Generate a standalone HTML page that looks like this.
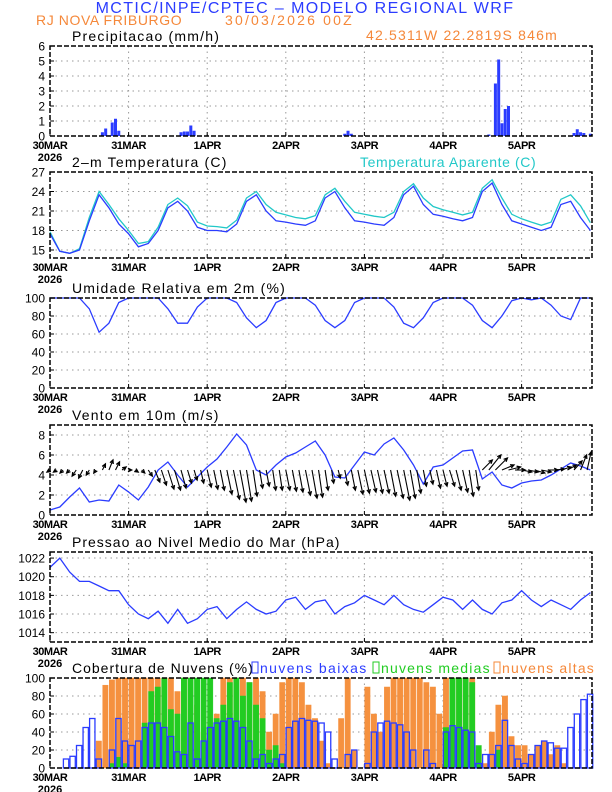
<!DOCTYPE html>
<html><head><meta charset="utf-8"><style>
html,body{margin:0;padding:0;background:#fff}
svg{display:block;font-family:"Liberation Sans",sans-serif}
</style></head><body>
<svg id="c" width="612" height="792" viewBox="0 0 612 792" xmlns="http://www.w3.org/2000/svg">
<text x="305" y="13" text-anchor="middle" font-size="16" letter-spacing="1.4" fill="#2b3cff">MCTIC/INPE/CPTEC  –  MODELO REGIONAL WRF</text>
<text x="36" y="25" font-size="14" letter-spacing="0.6" fill="#f5883a">RJ NOVA FRIBURGO</text>
<text x="225" y="25" font-size="14" letter-spacing="2.2" fill="#f5883a">30/03/2026 00Z</text>
<text x="366" y="40" font-size="14" letter-spacing="1.2" fill="#f5883a">42.5311W 22.2819S 846m</text>
<text x="72" y="41" font-size="14" letter-spacing="1.2" fill="#000">Precipitacao (mm/h)</text>
<text x="72" y="167" font-size="14" letter-spacing="1.2" fill="#000">2–m Temperatura (C)</text>
<text x="360" y="167" font-size="14" letter-spacing="0.6" fill="#22c8c8">Temperatura Aparente (C)</text>
<text x="72" y="293" font-size="14" letter-spacing="1.2" fill="#000">Umidade Relativa em 2m (%)</text>
<text x="72" y="420" font-size="14" letter-spacing="1.2" fill="#000">Vento em 10m (m/s)</text>
<text x="72" y="547" font-size="14" letter-spacing="1.0" fill="#000">Pressao ao Nivel Medio do Mar (hPa)</text>
<text x="72" y="673" font-size="14" letter-spacing="1.0" fill="#000">Cobertura de Nuvens (%)</text>
<rect x="252" y="662" width="6" height="11" fill="none" stroke="#2b3cff"/>
<text x="260" y="673" font-size="14" letter-spacing="1.4" fill="#2b3cff">nuvens baixas</text>
<rect x="373" y="662" width="6" height="11" fill="none" stroke="#22cc22"/>
<text x="381" y="673" font-size="14" letter-spacing="1.2" fill="#22cc22">nuvens medias</text>
<rect x="494" y="662" width="6" height="11" fill="none" stroke="#f5883a"/>
<text x="502" y="673" font-size="14" letter-spacing="1.2" fill="#f5883a">nuvens altas</text>
</svg>
<script>
// ---- data ----
const dayLabels = ["30MAR","31MAR","1APR","2APR","3APR","4APR","5APR"];
const precipHours = [16,17,18,19,20,21,40,41,42,43,44,90,91,92,134,136,137,138,139,140,160,161,162,163,165];
const precipValues = [0.25,0.5,0.05,0.9,1.15,0.35,0.25,0.3,0.3,0.7,0.35,0.15,0.35,0.15,0.1,3.5,5.1,0.85,1.8,2.0,0.2,0.45,0.25,0.2,0.15];
const hours3 = [0,3,6,9,12,15,18,21,24,27,30,33,36,39,42,45,48,51,54,57,60,63,66,69,72,75,78,81,84,87,90,93,96,99,102,105,108,111,114,117,120,123,126,129,132,135,138,141,144,147,150,153,156,159,162,165];
const tempValues = [17.5,14.8,14.5,15,19.5,23.5,21.5,19,17.5,15.5,16,18,21.5,22.5,21,18.5,18,18,17.8,19,22.5,23.5,21,19.5,19.3,19,18.8,19.5,23,24,21.5,19.5,19.3,19,18.8,20,23.5,24.8,22,20.5,20.2,19.8,19.5,20,24,25.3,22,19.5,19,18.5,18,18.5,22,22.5,20,18];
const apparentValues = [17.8,14.8,14.5,15.2,20,24,22,19.8,18,16,16.3,18.5,22,23,21.8,19.3,18.7,18.6,18.4,19.6,23,24,22,20.8,20.4,20,19.8,20.3,23.5,24.5,22.5,20.8,20.5,20.2,20,20.8,24,25.2,23,21.7,21.2,20.8,20.4,20.8,24.5,25.8,23,20.5,19.8,19.3,18.8,19.3,22.8,23.5,21.8,19.2];
const rhValues = [100,100,100,100,88,62,72,95,100,100,100,100,88,72,72,90,100,100,100,95,78,67,75,95,100,100,100,92,75,67,75,95,100,100,100,90,72,67,78,95,100,100,100,92,75,67,80,97,100,98,100,92,80,76,100,100];
const windSpeed = [0.5,0.8,1.8,2.7,1.3,1.5,1.4,3.0,2.3,1.5,2.8,4.5,5.3,4.0,2.8,3.8,4.8,5.6,6.8,8.1,7.0,4.5,4.0,5.0,5.8,6.2,6.8,7.4,6.0,3.8,3.7,5.0,6.3,6.0,7.1,7.7,6.5,5.0,3.1,4.8,5.0,5.7,6.4,6.5,3.6,4.3,3.0,2.7,3.2,3.4,3.5,4.0,4.6,5.2,4.9,4.5];
const pressureValues = [1021,1022,1020.5,1019.5,1019.5,1019,1018.5,1018.5,1017,1016,1015.5,1016.3,1015,1016.5,1015,1015.5,1016.5,1016.8,1015.5,1016.5,1017.3,1016.5,1016,1016.3,1017.5,1017.8,1016.5,1017.3,1017.5,1016,1016.8,1017.2,1018,1017.5,1017,1018,1017,1016.5,1016.2,1017,1017.8,1017.5,1016.5,1017.5,1016.5,1016,1017.2,1017.5,1018.5,1017.5,1016.8,1017.5,1017,1016.5,1017.5,1018.3];
const windU = [-0.3,-0.3,-0.3,-0.3,-0.4,-0.4,-0.3,-0.2,0.3,0.4, 0.4,0.4,0.3,0.3,0.3,0.4,0.5,0.5,0.6,0.6, 0.5,0.4,0.3,0.3,0.4,0.4,0.4,0.5,0.6,0.6, 0.5,0.4,0.3,0.3,0.3,0.3,0.4,0.4,0.4,0.5, 0.5,0.4,0.3,0.2,0.2,0.3,0.4,0.5,0.5,0.5, 0.5,0.5,0.5,0.6,0.6,0.5,0.4,0.3,0.3,0.4, 0.4,0.5,0.5,0.5,0.4,0.3,1.0,1.2,1.2,1.2, 1.2,1.0,1.0,1.0,1.0,1.0,1.0,1.0,1.0,0.9, 0.8,0.6,0.4];
const windV = [-0.2,-0.2,-0.3,-0.3,-0.6,-0.8,-0.5,-0.3,0.6,1.0, 0.8,0.3,0.0,-0.2,-0.3,-0.6,-1.2,-1.5,-1.9,-2.0, -1.8,-1.3,-1.0,-1.3,-1.7,-1.9,-2.0,-2.4,-2.9,-3.2, -3.1,-2.6,-1.8,-1.6,-2.0,-2.0,-2.0,-2.1,-2.2,-2.5, -2.8,-2.7,-2.0,-1.3,-0.8,-1.5,-2.0,-2.4,-2.3,-2.2, -2.3,-2.3,-2.6,-2.8,-3.0,-2.8,-2.3,-1.6,-1.4,-1.8, -1.6,-1.6,-2.0,-2.2,-2.6,-2.0,1.0,1.5,1.2,0.5, 0.3,0.0,-0.2,-0.2,-0.3,-0.2,0.0,0.1,0.3,0.5, 0.9,1.5,1.8];
const cloudLow = [0,0,10,13,25,45,55,10,0,20, 55,30,25,30,45,50,50,45,35,18, 15,50,10,30,45,50,52,55,52,45, 30,10,15,5,10,15,45,52,55,53, 52,50,40,10,0,15,20,0,5,40, 50,52,50,48,40,20,0,20,5,0, 40,47,45,42,40,5,15,15,25,53, 25,10,5,15,25,30,28,22,22,45, 60,76,82];
const cloudMid = [0,0,0,0,0,0,0,0,0,5, 12,5,0,0,50,85,90,100,65,60, 100,100,100,100,100,55,70,95,100,80, 95,70,55,20,25,5,0,0,0,0, 0,0,0,0,0,0,0,0,0,0, 0,0,0,0,0,0,0,0,0,0, 45,100,100,100,95,25,0,0,20,0, 0,0,0,0,0,0,0,0,0,0, 0,0,0];
const cloudHigh = [0,0,0,0,0,0,0,30,92,98, 100,100,100,100,100,100,100,100,100,85, 100,100,70,40,30,60,100,100,100,100, 95,100,85,40,60,95,100,100,95,70, 55,30,5,0,55,100,20,0,90,60, 40,90,100,100,100,100,100,95,90,60, 100,100,100,100,100,20,5,40,70,80, 35,25,25,15,25,30,15,25,5,0, 0,0,0];
const precipTicks = [0,1,2,3,4,5,6];
const tempTicks = [15,18,21,24,27];
const rhTicks = [0,20,40,60,80,100];
const windTicks = [0,2,4,6,8];
const pressTicks = [1014,1016,1018,1020,1022];
const cloudTicks = [0,20,40,60,80,100];

// ---- drawing ----
const NS = "http://www.w3.org/2000/svg";
const svg = document.getElementById('c');
const X0 = 50, X1 = 592, PXH = 3.275;
const BLUE = "#2b3cff", ORANGE = "#f5913f", GREEN = "#22cc22", CYAN = "#22c8c8";
function xs(h){ return X0 + h * PXH; }
function el(tag, attrs, parent){ const e = document.createElementNS(NS, tag); for (const k in attrs) e.setAttribute(k, attrs[k]); (parent||svg).appendChild(e); return e; }
function mkY(p){ return v => p.bottom - (v - p.min) / (p.max - p.min) * (p.bottom - p.top); }

function panel(name, p, ticks){
  const g = el('g', {});
  
  
  const y = mkY(p);
  for (const t of ticks){
    if (t !== p.min && t !== p.max){
      const gl = el('line', {x1:X0, x2:X1, y1:y(t), y2:y(t), stroke:'#999', 'stroke-dasharray':'1.5,4', 'stroke-width':1}, g);
      
      
    }
    const tl = el('text', {x:45, y:y(t)+4.5, 'text-anchor':'end', 'font-size':12}, g);
    tl.textContent = t;
    
    
    el('line', {x1:X0, x2:X0+4, y1:y(t), y2:y(t), stroke:'#000'}, g);
  }
  for (let d = 1; d < dayLabels.length; d++){
    const gx = xs(d*24);
    const gl = el('line', {x1:gx, x2:gx, y1:p.top, y2:p.bottom, stroke:'#999', 'stroke-dasharray':'1.5,4', 'stroke-width':1}, g);
    
    
  }
  dayLabels.forEach((d, i) => {
    const tx = el('text', {x:xs(i*24), y:p.bottom+13, 'text-anchor':'middle', 'font-size':11, 'font-weight':'bold', 'letter-spacing':'-0.5'}, g);
    tx.textContent = d;
    
    
    el('line', {x1:xs(i*24), x2:xs(i*24), y1:p.bottom, y2:p.bottom-4, stroke:'#000'}, g);
  });
  const yr = el('text', {x:X0, y:p.bottom+25, 'text-anchor':'middle', 'font-size':11, 'font-weight':'bold'}, g);
  yr.textContent = '2026';
  
  
  return {g, y};
}
function frame(g, p){
  const f = el('rect', {x:X0, y:p.top, width:X1-X0, height:p.bottom-p.top, fill:'none', stroke:'#000', 'stroke-width':1.5, 'stroke-dasharray':'5,2'}, g);
  
  
}
function line(g, hrs, vals, y, color, name){
  const d = hrs.map((h,i) => (i?'L':'M') + xs(h).toFixed(1) + ',' + y(vals[i]).toFixed(1)).join('');
  const pth = el('path', {d, fill:'none', stroke:color, 'stroke-width':1.3}, g);
  
  
}

// Precip
const P1 = {top:46, bottom:136, min:0, max:6};
let r = panel('precip', P1, precipTicks);
precipHours.forEach((h,i) => {
  const b = el('rect', {x:xs(h)-1.5, y:r.y(precipValues[i]), width:3, height:P1.bottom - r.y(precipValues[i]), fill:BLUE}, r.g);
  
  
});
frame(r.g, P1);

// Temperature
const P2 = {top:172, bottom:258, min:13.77, max:27};
r = panel('temp', P2, tempTicks);
line(r.g, hours3, apparentValues, r.y, CYAN, 'apparent-temp-line');
line(r.g, hours3, tempValues, r.y, BLUE, 'temp-line');
frame(r.g, P2);

// RH
const P3 = {top:298, bottom:388, min:0, max:100};
r = panel('rh', P3, rhTicks);
line(r.g, hours3, rhValues, r.y, BLUE, 'rh-line');
frame(r.g, P3);

// Wind
const P4 = {top:425, bottom:515, min:0, max:9};
r = panel('wind', P4, windTicks);
line(r.g, hours3, windSpeed, r.y, BLUE, 'wind-speed-line');
const base = r.y(4.5), scl = 10;
windU.forEach((u,i) => {
  const x = xs(i*2), x2 = x + u*scl, y2 = base - windV[i]*scl;
  const a = el('g', {}, r.g);
  
  
  el('line', {x1:x, y1:base, x2:x2, y2:y2, stroke:'#000', 'stroke-width':1.1}, a);
  const ang = Math.atan2(y2-base, x2-x), L = 4;
  const p1 = [x2 - L*Math.cos(ang-0.45), y2 - L*Math.sin(ang-0.45)];
  const p2 = [x2 - L*Math.cos(ang+0.45), y2 - L*Math.sin(ang+0.45)];
  el('path', {d:`M${p1[0]},${p1[1]}L${x2},${y2}L${p2[0]},${p2[1]}`, fill:'none', stroke:'#000', 'stroke-width':1.3}, a);
});
frame(r.g, P4);

// Pressure
const P5 = {top:552, bottom:642, min:1013.0, max:1022.65};
r = panel('pressure', P5, pressTicks);
line(r.g, hours3, pressureValues, r.y, BLUE, 'pressure-line');
frame(r.g, P5);

// Clouds
const P6 = {top:678, bottom:768, min:0, max:100};
r = panel('cloud', P6, cloudTicks);
function cbars(vals, color, fill, name){
  vals.forEach((v,i) => {
    if (v <= 0) return;
    const x = xs(i*2) + 0.3, w = 2*PXH - 1.2;
    const b = el('rect', {x, y:r.y(v), width:w, height:P6.bottom - r.y(v), fill: fill ? color : 'none', stroke: color, 'stroke-width': fill ? 0.5 : 1.3}, r.g);
    
    
  });
}
cbars(cloudHigh, ORANGE, true, 'high-cloud-bar');
cbars(cloudMid, GREEN, true, 'mid-cloud-bar');
cbars(cloudLow, BLUE, false, 'low-cloud-bar');
frame(r.g, P6);
</script>
</body></html>
